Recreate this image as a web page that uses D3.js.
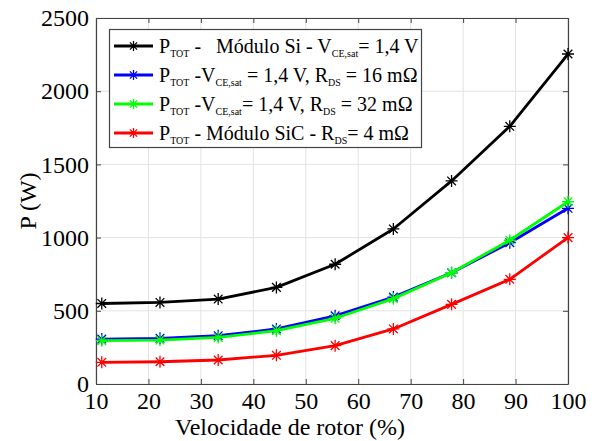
<!DOCTYPE html>
<html>
<head>
<meta charset="utf-8">
<script src="https://cdn.jsdelivr.net/npm/d3@7"></script>
<style>
body{margin:0;background:#fff;}
</style>
</head>
<body>
<div id="chart"></div>
<script>
(function(){

const velocidade = [11.1, 22.2, 33.3, 44.4, 55.6, 66.7, 77.8, 88.9, 100];
const pSi      = [550, 557, 580, 660, 818, 1059, 1387, 1760, 2254];
const pRds16   = [307, 312, 330, 376, 466, 594, 760, 965, 1200];
const pRds32   = [296, 300, 318, 364, 449, 583, 760, 982, 1245];
const pSiC     = [148, 152, 164, 196, 262, 376, 544, 715, 1000];
const xTicks = [10,20,30,40,50,60,70,80,90,100];
const yTicks = [0,500,1000,1500,2000,2500];

const series = [
  {vals:pSi,    color:"#000000", label:[["P",""],["TOT","sub"],[" -   Módulo Si - V",""],["CE,sat","sub"],["= 1,4 V",""]]},
  {vals:pRds16, color:"#0000ff", label:[["P",""],["TOT","sub"],[" -V",""],["CE,sat","sub"],[" = 1,4 V, R",""],["DS","sub"],[" = 16 mΩ",""]]},
  {vals:pRds32, color:"#00ff00", label:[["P",""],["TOT","sub"],[" -V",""],["CE,sat","sub"],["= 1,4 V, R",""],["DS","sub"],[" = 32 mΩ",""]]},
  {vals:pSiC,   color:"#ff0000", label:[["P",""],["TOT","sub"],[" - Módulo SiC - R",""],["DS","sub"],["= 4 mΩ",""]]}
];

const FONT = "'Liberation Serif', 'Times New Roman', serif";
const width = 598, height = 441;
const m = {left:96, right:30, top:18, bottom:57};

const svg = d3.select("#chart").append("svg")
.attr("width",width).attr("height",height)
.attr("font-family",FONT);

const x = d3.scaleLinear().domain([10,100]).range([m.left, width-m.right]);
const y = d3.scaleLinear().domain([0,2500]).range([height-m.bottom, m.top]);

// grid
svg.append("g").selectAll("line").data(xTicks).enter().append("line")
.attr("x1",d=>x(d)).attr("x2",d=>x(d)).attr("y1",y(0)).attr("y2",y(2500))
.attr("stroke","#e3e3e3").attr("stroke-width",1);
svg.append("g").selectAll("line").data(yTicks).enter().append("line")
.attr("x1",x(10)).attr("x2",x(100)).attr("y1",d=>y(d)).attr("y2",d=>y(d))
.attr("stroke","#e3e3e3").attr("stroke-width",1);

// axes (ticks inward, box all round)
const axStyle = g=>{
  g.attr("font-family",FONT).attr("font-size",24);
  g.select(".domain").attr("stroke","#444").attr("stroke-width",1.2);
  g.selectAll(".tick line").attr("stroke","#444");
  g.selectAll("text").attr("fill","#000");
};
const fmt = d3.format("d");
svg.append("g").attr("transform",`translate(0,${y(0)})`)
.call(d3.axisBottom(x).tickValues(xTicks).tickFormat(fmt).tickSize(-5).tickPadding(8).tickSizeOuter(0))
.call(axStyle);
svg.append("g").attr("transform",`translate(${x(10)},0)`)
.call(d3.axisLeft(y).tickValues(yTicks).tickFormat(fmt).tickSize(-5).tickPadding(7).tickSizeOuter(0))
.call(axStyle);
svg.append("g").attr("transform",`translate(0,${y(2500)})`)
.call(d3.axisTop(x).tickValues(xTicks).tickSize(-5).tickFormat("").tickSizeOuter(0))
.call(axStyle);
svg.append("g").attr("transform",`translate(${x(100)},0)`)
.call(d3.axisRight(y).tickValues(yTicks).tickSize(-5).tickFormat("").tickSizeOuter(0))
.call(axStyle);

// asterisk marker
function star(g, cx, cy, r, color){
  const a = r*0.72;
  const p = `M${cx-r},${cy}L${cx+r},${cy}M${cx},${cy-r}L${cx},${cy+r}`+
            `M${cx-a},${cy-a}L${cx+a},${cy+a}M${cx-a},${cy+a}L${cx+a},${cy-a}`;
  g.append("path").attr("d",p).attr("stroke",color).attr("stroke-width",1.3).attr("fill","none");
}

const line = d3.line().x((d,i)=>x(velocidade[i])).y(d=>y(d));

series.forEach(s=>{
  const g = svg.append("g");
  g.append("path").datum(s.vals).attr("d",line)
  .attr("fill","none").attr("stroke",s.color).attr("stroke-width",2.8)
  .attr("stroke-linejoin","round");
  s.vals.forEach((v,i)=>star(g, x(velocidade[i]), y(v), 6, s.color));
});

// legend
const lg = svg.append("g");
lg.append("rect").attr("x",109.5).attr("y",29.5).attr("width",312).attr("height",118)
.attr("fill","#fff").attr("stroke","#444").attr("stroke-width",1.2);
series.forEach((s,i)=>{
  const ry = 46 + i*29;
  lg.append("line").attr("x1",114).attr("x2",153).attr("y1",ry).attr("y2",ry)
  .attr("stroke",s.color).attr("stroke-width",2.8);
  star(lg, 133.5, ry, 5, s.color);
  const t = lg.append("text").attr("x",159).attr("y",ry+7).attr("font-size",20)
  .attr("xml:space","preserve").style("white-space","pre");
  s.label.forEach(([str,k],j)=>{
    const ts = t.append("tspan").text(str);
    if(k==="sub") ts.attr("font-size",10).attr("dy",4);
    else if(j>0 && s.label[j-1][1]==="sub") ts.attr("dy",-4);
  });
});

// axis labels
svg.append("text").attr("x",290).attr("y",435)
.attr("text-anchor","middle").attr("font-size",24).text("Velocidade de rotor (%)");
svg.append("text").attr("transform",`translate(36,${(y(0)+y(2500))/2}) rotate(-90)`)
.attr("text-anchor","middle").attr("font-size",24).text("P (W)");

})();
</script>
</body>
</html>
